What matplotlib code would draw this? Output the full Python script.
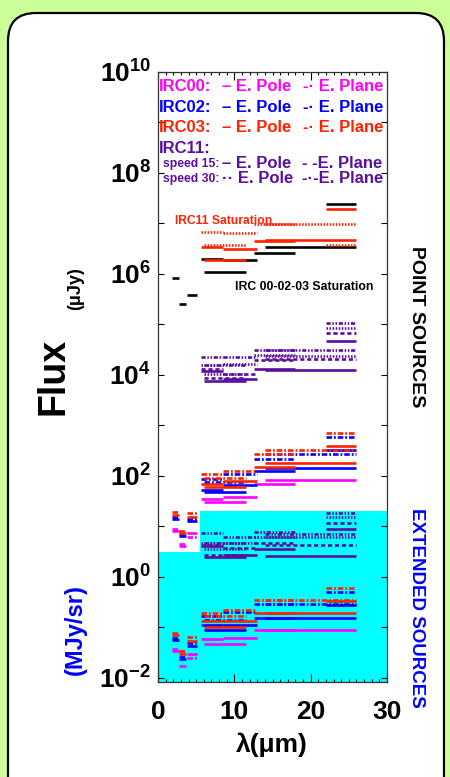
import numpy as np
import matplotlib.pyplot as plt
from matplotlib.patches import FancyBboxPatch
from matplotlib.ticker import FixedLocator, NullFormatter, MultipleLocator

plt.rcParams['font.family'] = ['Liberation Sans', 'DejaVu Sans']
plt.rcParams['font.weight'] = 'bold'
plt.rcParams['mathtext.fontset'] = 'custom'
plt.rcParams['mathtext.rm'] = 'Liberation Sans:bold'
plt.rcParams['mathtext.it'] = 'Liberation Sans:bold'
plt.rcParams['mathtext.bf'] = 'Liberation Sans:bold'
plt.rcParams['lines.scale_dashes'] = False

nan = np.nan

# IRC bands: N2 N3 N4 S7 S9W S11 L15 L18W L24 (wavelength range, um)
band_lo = [1.8, 2.75, 3.75, 5.6, 6.05, 8.55, 12.6, 14.0, 22.0]
band_hi = [2.7, 3.7, 5.15, 8.55, 11.5, 13.0, 17.95, 26.0, 26.0]

# log10 sensitivities, point sources (uJy)
irc00_pole_pt = [0.91, 0.61, 0.87, 1.54, 1.48, 1.58, 1.84, 1.92, nan]
irc00_plane_pt = [0.95, 0.66, 0.80, nan, nan, nan, nan, nan, nan]
irc02_pole_pt = [1.15, 0.81, 1.10, 1.72, 1.68, 1.82, 2.10, 2.16, 2.51]
irc02_plane_pt = [1.19, 0.85, 1.14, 1.94, 1.88, 2.03, 2.34, 2.44, 2.77]
irc03_pole_pt = [1.22, 0.87, 1.19, 1.84, 1.78, 1.90, 2.17, 2.26, 2.60]
irc03_plane_pt = [1.28, 0.92, 1.27, 2.04, 1.96, 2.10, 2.44, 2.52, 2.85]
irc11_15_pole_pt = [nan, nan, nan, 4.07, 3.89, 3.93, 4.12, 4.10, 4.67]
irc11_15_plane_pt = [nan, nan, nan, 4.12, 3.94, 4.02, 4.30, 4.32, 4.83]
irc11_30_pole_pt = [nan, nan, nan, 4.20, 4.02, 4.22, 4.40, 4.37, 4.93]
irc11_30_plane_pt = [nan, nan, nan, 4.35, 4.20, 4.35, 4.49, 4.49, 5.03]

# log10 sensitivities, extended sources (MJy/sr)
irc00_pole_ext = [-1.46, -1.77, -1.52, -1.22, -1.32, -1.21, -1.06, -1.06, nan]
irc00_plane_ext = [-1.42, -1.47, -1.60, nan, nan, nan, nan, nan, nan]
irc02_pole_ext = [-1.24, -1.62, -1.36, -0.96, -1.06, -0.96, -0.81, -0.81, -0.55]
irc02_plane_ext = [-1.20, -1.58, -1.30, -0.78, -0.85, -0.70, -0.53, -0.53, -0.30]
irc03_pole_ext = [-1.14, -1.52, -1.26, -0.88, -1.00, -0.88, -0.71, -0.71, -0.47]
irc03_plane_ext = [-1.10, -1.47, -1.18, -0.71, -0.78, -0.66, -0.45, -0.45, -0.22]
irc11_15_pole_ext = [nan, nan, nan, 0.61, 0.40, 0.44, 0.55, 0.41, 0.94]
irc11_15_plane_ext = [nan, nan, nan, 0.64, 0.44, 0.57, 0.67, 0.64, 1.06]
irc11_30_pole_ext = [nan, nan, nan, 0.67, 0.55, 0.67, 0.79, 0.79, 1.18]
irc11_30_plane_ext = [nan, nan, nan, 0.87, 0.67, 0.80, 0.89, 0.85, 1.27]

# log10 saturation limits (uJy)
sat_irc00_02_03 = [5.92, 5.41, 5.58, 6.29, 6.03, 6.28, 6.42, 6.53, 7.39]
sat_irc11_15 = [nan, nan, nan, 6.53, 6.28, 6.50, 6.65, 6.67, 7.29]
sat_irc11_30 = [nan, nan, nan, 6.84, 6.58, 6.81, 6.98, 6.98, 6.58]

# extended-source shaded region (x in um, top in MJy/sr)
cyan_x = [0, 5.5, 5.5, 30]
cyan_top = [3.1, 3.1, 20.0, 20.0]

MAGENTA = '#ff00ff'
BLUE = '#0000ff'
RED = '#ff2200'
PURPLE = '#5b0f9e'

SOLID = '-'
DASHDOT = (0, (4, 1.4, 1.3, 1.4))
DASHED = (0, (3, 2))
DOTTED = (0, (1.1, 1.1))
DASHDOTDOT = (0, (3, 1.2, 1.1, 1.2, 1.1, 1.2))
LW = 1.9


def draw_series(ax, logs, color, style):
    for lo, hi, v in zip(band_lo, band_hi, logs):
        if np.isnan(v):
            continue
        ax.plot([lo, hi], [10 ** v, 10 ** v], color=color, lw=LW, linestyle=style,
                solid_capstyle='butt', dash_capstyle='butt', zorder=2)


fig = plt.figure(figsize=(4.5, 7.77), dpi=100, facecolor='#ccff99')

bg = fig.add_axes([0, 0, 1, 1])
bg.set_xlim(0, 450)
bg.set_ylim(777, 0)
bg.axis('off')
bg.add_patch(FancyBboxPatch((8, 13), 436, 820, boxstyle='round,pad=0,rounding_size=28',
                            fc='white', ec='black', lw=1.6))

ax = fig.add_axes([158 / 450, 1 - 682 / 777, 229 / 450, 610 / 777])
ax.patch.set_visible(False)
ax.set_yscale('log')
ax.set_xlim(0, 30)
ax.set_ylim(10 ** -2.08, 1e10)

ax.fill_between(cyan_x, 1e-3, cyan_top, color='#00ffff', lw=0, zorder=1)

for pt, ext, color in [((irc00_pole_pt, irc00_plane_pt), (irc00_pole_ext, irc00_plane_ext), MAGENTA),
                       ((irc02_pole_pt, irc02_plane_pt), (irc02_pole_ext, irc02_plane_ext), BLUE),
                       ((irc03_pole_pt, irc03_plane_pt), (irc03_pole_ext, irc03_plane_ext), RED)]:
    for data in (pt, ext):
        draw_series(ax, data[0], color, SOLID)
        draw_series(ax, data[1], color, DASHDOT)

for data in [(irc11_15_pole_pt, irc11_15_plane_pt, irc11_30_pole_pt, irc11_30_plane_pt),
             (irc11_15_pole_ext, irc11_15_plane_ext, irc11_30_pole_ext, irc11_30_plane_ext)]:
    draw_series(ax, data[0], PURPLE, SOLID)
    draw_series(ax, data[1], PURPLE, DASHED)
    draw_series(ax, data[2], PURPLE, DOTTED)
    draw_series(ax, data[3], PURPLE, DASHDOTDOT)

draw_series(ax, sat_irc00_02_03, 'black', SOLID)
draw_series(ax, sat_irc11_15, RED, SOLID)
draw_series(ax, sat_irc11_30, RED, DOTTED)

major = list(range(-2, 11, 2))
ax.yaxis.set_major_locator(FixedLocator([10.0 ** k for k in major]))
ax.set_yticklabels([rf'$10^{{{k}}}$' for k in major])
ax.yaxis.set_minor_locator(FixedLocator([10.0 ** k for k in range(-1, 10, 2)]))
ax.yaxis.set_minor_formatter(NullFormatter())
ax.set_xticks([0, 10, 20, 30])
ax.xaxis.set_minor_locator(MultipleLocator(1))
ax.tick_params(axis='both', which='both', direction='in', top=True, right=True, width=0.8)
ax.tick_params(axis='y', which='both', length=4.5, labelsize=19, pad=5)
ax.tick_params(axis='x', which='major', length=5.5, labelsize=19, pad=13)
ax.tick_params(axis='x', which='minor', length=2.5)
for lab in ax.get_xticklabels() + ax.get_yticklabels():
    lab.set_fontweight('bold')
for sp in ax.spines.values():
    sp.set_linewidth(0.9)
    sp.set_color('#333333')

ov = fig.add_axes([0, 0, 1, 1], zorder=5)
ov.set_xlim(0, 450)
ov.set_ylim(777, 0)
ov.axis('off')

legend_rows = [('IRC00:', MAGENTA, 86.7), ('IRC02:', BLUE, 107.3), ('IRC03:', RED, 127.7)]
for name, color, y in legend_rows:
    ov.text(159, y, name, color=color, fontsize=12, va='center', ha='left')
    ov.text(222, y, '– E. Pole', color=color, fontsize=12, va='center', ha='left')
    ov.text(303, y, '-· E. Plane', color=color, fontsize=12, va='center', ha='left')
ov.text(159, 148.3, 'IRC11:', color=PURPLE, fontsize=12, va='center', ha='left')
ov.text(163, 164, 'speed 15:', color=PURPLE, fontsize=8.8, va='center', ha='left')
ov.text(222, 163.3, '– E. Pole', color=PURPLE, fontsize=12, va='center', ha='left')
ov.text(302, 163.3, '- -E. Plane', color=PURPLE, fontsize=12, va='center', ha='left')
ov.text(163, 179, 'speed 30:', color=PURPLE, fontsize=8.8, va='center', ha='left')
ov.text(222, 178.3, '·· E. Pole', color=PURPLE, fontsize=12, va='center', ha='left')
ov.text(302, 178.3, '-·-E. Plane', color=PURPLE, fontsize=12, va='center', ha='left')

ov.text(175, 221, 'IRC11 Saturation', color=RED, fontsize=8.7, va='center', ha='left')
ov.text(235, 287, 'IRC 00-02-03 Saturation', color='black', fontsize=8.8, va='center', ha='left')

ov.text(54, 376, 'Flux', fontsize=27, rotation=90, ha='center', va='center')
ov.text(76, 289, '(μJy)', fontsize=13, rotation=90, ha='center', va='center')
ov.text(75, 630, '(MJy/sr)', color=BLUE, fontsize=17, rotation=90, ha='center', va='center')
ov.text(272, 745, 'λ(μm)', fontsize=19, ha='center', va='center')
ov.text(416, 327, 'POINT SOURCES', fontsize=14, rotation=-90, ha='center', va='center')
ov.text(416, 608, 'EXTENDED SOURCES', color=BLUE, fontsize=13.5, rotation=-90, ha='center', va='center')

fig.savefig('out.png', dpi=100, facecolor=fig.get_facecolor())
